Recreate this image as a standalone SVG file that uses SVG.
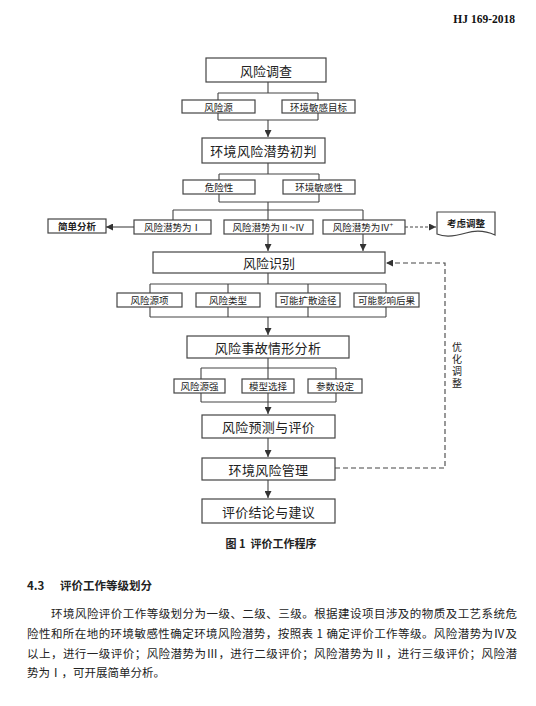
<svg xmlns="http://www.w3.org/2000/svg" width="536" height="706" viewBox="0 0 536 706">
<defs>
<style>
.bx{fill:#fff;stroke:#444;stroke-width:1.2}
.ln{fill:none;stroke:#444;stroke-width:1.1}
.ds{fill:none;stroke:#444;stroke-width:1.1;stroke-dasharray:5,3}
.dd{fill:none;stroke:#444;stroke-width:1;stroke-dasharray:3,2}
.t{font-family:"Noto Sans CJK SC","Liberation Sans",sans-serif;fill:#222;text-anchor:middle;dominant-baseline:central}
.big{font-size:13px}
.sm{font-size:9.5px}
.p{font-family:"Noto Sans CJK SC","Liberation Sans",sans-serif;fill:#222;font-size:11.5px}
</style>
<marker id="ah" viewBox="0 0 10 10" refX="10" refY="5" markerWidth="7" markerHeight="7" markerUnits="userSpaceOnUse" orient="auto"><path d="M0,0 L10,5 L0,10 Z" fill="#333"/></marker>
</defs>
<rect width="536" height="706" fill="#fff"/>
<text x="515" y="23" font-family="Liberation Serif,serif" font-weight="bold" font-size="11.5" fill="#111" text-anchor="end">HJ 169-2018</text>

<g id="connectors">
<path class="ln" d="M268,82 V93 M218,93 H318 M218,93 V120 M318,93 V120 M218,120 H318"/>
<path class="ln" d="M268,120 V137" marker-end="url(#ah)"/>
<path class="ln" d="M268,163 V174 M219,174 H319 M219,174 V202 M319,174 V202 M219,202 H319"/>
<path class="ln" d="M268,202 V220 M173,210 H363 M173,210 V220 M363,210 V220"/>
<path class="ln" d="M134,227 H106" marker-end="url(#ah)"/>
<path class="dd" d="M405,227 H436" marker-end="url(#ah)"/>
<path class="ln" d="M268,234 V251" marker-end="url(#ah)"/>
<path class="ln" d="M363,234 V251" marker-end="url(#ah)"/>
<path class="ln" d="M268,273 V284 M150,284 H386 M150,284 V317 M228,284 V317 M308,284 V317 M386,284 V317 M150,317 H386"/>
<path class="ln" d="M268,317 V335" marker-end="url(#ah)"/>
<path class="ln" d="M268,358 V379 M201,368 H336 M201,368 V402 M336,368 V402 M201,402 H336"/>
<path class="ln" d="M268,393 V414" marker-end="url(#ah)"/>
<path class="ln" d="M268,438 V457" marker-end="url(#ah)"/>
<path class="ln" d="M268,480 V498" marker-end="url(#ah)"/>
<path class="ds" d="M335,468 H445 V263 H386" marker-end="url(#ah)"/>
</g>

<g id="n-survey"><rect class="bx" x="206" y="58" width="120" height="24"/><text class="t big" x="266" y="70">风险调查</text></g>
<g id="n-source"><rect class="bx" x="182" y="100" width="73" height="13"/><text class="t sm" x="218.5" y="106.5">风险源</text></g>
<g id="n-target"><rect class="bx" x="282" y="100" width="73" height="13"/><text class="t sm" x="318.5" y="106.5">环境敏感目标</text></g>

<g id="n-judge"><rect class="bx" x="202" y="138" width="123" height="25"/><text class="t big" x="263.5" y="150.5" letter-spacing="0.3">环境风险潜势初判</text></g>
<g id="n-hazard"><rect class="bx" x="183" y="180" width="72" height="14"/><text class="t sm" x="219" y="187">危险性</text></g>
<g id="n-sens"><rect class="bx" x="283" y="180" width="72" height="14"/><text class="t sm" x="319" y="187">环境敏感性</text></g>

<g id="n-simple"><rect class="bx" x="48" y="219" width="58" height="14"/><text class="t sm" x="77" y="226" font-weight="bold">简单分析</text></g>
<g id="n-p1"><rect class="bx" x="134" y="220" width="77" height="14"/><text class="t sm" x="172.5" y="227">风险潜势为Ⅰ</text></g>
<g id="n-p2"><rect class="bx" x="224" y="220" width="89" height="14"/><text class="t sm" x="268.5" y="227">风险潜势为Ⅱ~Ⅳ</text></g>
<g id="n-p4"><rect class="bx" x="323" y="220" width="82" height="14"/><text class="t sm" x="363" y="227">风险潜势为Ⅳ<tspan font-size="6" dy="-3">+</tspan></text></g>
<g id="n-adjust"><path class="bx" d="M437,212 H495 V235 C486,231 476,230 466,233 C456,236 446,238 437,234 Z"/><text class="t sm" x="466" y="223" font-weight="bold">考虑调整</text></g>

<g id="n-ident"><rect class="bx" x="153" y="252" width="232" height="21"/><text class="t big" x="269" y="262.5">风险识别</text></g>
<g id="n-srcitem"><rect class="bx" x="117" y="293" width="65" height="14"/><text class="t sm" x="149.5" y="300">风险源项</text></g>
<g id="n-type"><rect class="bx" x="196" y="293" width="64" height="14"/><text class="t sm" x="228" y="300">风险类型</text></g>
<g id="n-path"><rect class="bx" x="276" y="293" width="64" height="14"/><text class="t sm" x="308" y="300">可能扩散途径</text></g>
<g id="n-conseq"><rect class="bx" x="354" y="293" width="65" height="14"/><text class="t sm" x="386.5" y="300">可能影响后果</text></g>

<g id="n-scenario"><rect class="bx" x="187" y="336" width="162" height="22"/><text class="t big" x="268" y="347" letter-spacing="0.3">风险事故情形分析</text></g>
<g id="n-strength"><rect class="bx" x="174" y="379" width="51" height="14"/><text class="t sm" x="199.5" y="386">风险源强</text></g>
<g id="n-model"><rect class="bx" x="242" y="379" width="52" height="14"/><text class="t sm" x="268" y="386">模型选择</text></g>
<g id="n-param"><rect class="bx" x="308" y="379" width="54" height="14"/><text class="t sm" x="335" y="386">参数设定</text></g>

<g id="n-predict"><rect class="bx" x="202" y="415" width="133" height="23"/><text class="t big" x="268.5" y="426.5" letter-spacing="0.3">风险预测与评价</text></g>
<g id="n-manage"><rect class="bx" x="202" y="458" width="133" height="22"/><text class="t big" x="268.5" y="469" letter-spacing="0.3">环境风险管理</text></g>
<g id="n-conclude"><rect class="bx" x="202" y="499" width="133" height="24"/><text class="t big" x="268.5" y="511" letter-spacing="0.3">评价结论与建议</text></g>

<g id="l-opt">
<text x="457" y="342" writing-mode="tb" font-family="Noto Sans CJK SC,sans-serif" font-size="10" fill="#222" letter-spacing="2">优化调整</text>
</g>

<text class="t" font-size="11" font-weight="bold" x="271" y="543">图 1<tspan dx="5">评价工作程序</tspan></text>

<text class="p" x="27" y="590" font-weight="bold" font-size="11.5">4.3<tspan x="60">评价工作等级划分</tspan></text>
<text class="p" x="51" y="618" textLength="466" lengthAdjust="spacing">环境风险评价工作等级划分为一级、二级、三级。根据建设项目涉及的物质及工艺系统危</text>
<text class="p" x="27" y="638" textLength="490" lengthAdjust="spacing">险性和所在地的环境敏感性确定环境风险潜势，按照表 1 确定评价工作等级。风险潜势为Ⅳ及</text>
<text class="p" x="27" y="658" textLength="490" lengthAdjust="spacing">以上，进行一级评价；风险潜势为Ⅲ，进行二级评价；风险潜势为Ⅱ，进行三级评价；风险潜</text>
<text class="p" x="27" y="677">势为Ⅰ，可开展简单分析。</text>
</svg>
